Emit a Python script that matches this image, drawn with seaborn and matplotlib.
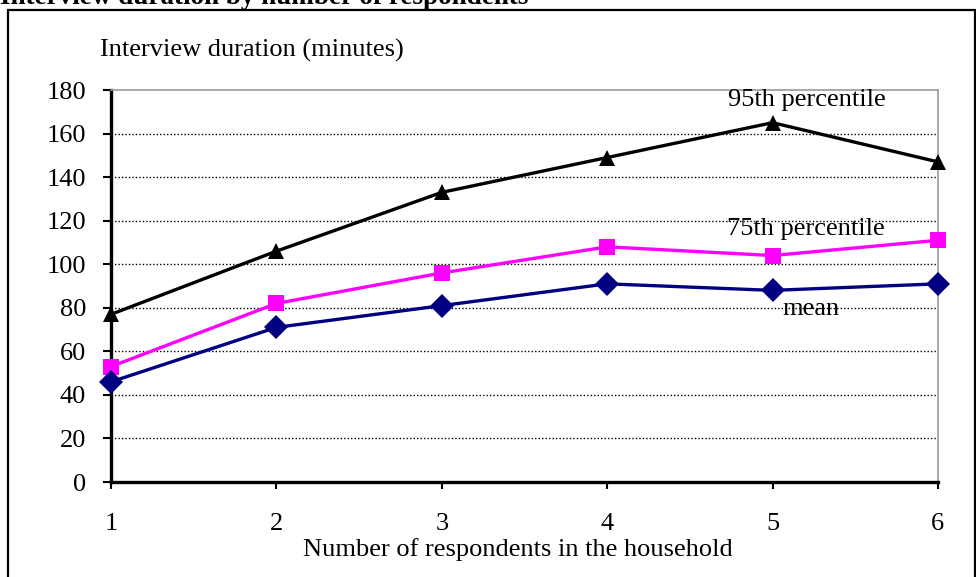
import matplotlib
matplotlib.use("Agg")
import matplotlib.pyplot as plt
import seaborn as sns
import pandas as pd
from matplotlib.patches import Rectangle

respondents = [1, 2, 3, 4, 5, 6]
p95 = [77, 106, 133, 149, 165, 147]
p75 = [53, 82, 96, 108, 104, 111]
mean = [46, 71, 81, 91, 88, 91]
series_names = ["95th percentile", "75th percentile", "mean"]
y_ticks = [0, 20, 40, 60, 80, 100, 120, 140, 160, 180]

df = pd.DataFrame({
    "respondents": respondents * 3,
    "minutes": p95 + p75 + mean,
    "series": [series_names[0]] * 6 + [series_names[1]] * 6 + [series_names[2]] * 6,
})

sns.set_theme(style="white")
plt.rcParams["font.family"] = ["Liberation Serif", "DejaVu Serif"]

fig = plt.figure(figsize=(9.76, 5.77), dpi=100)
ax = fig.add_axes([0.1137, 0.1646, 0.8473, 0.6794])

palette = {series_names[0]: "black", series_names[1]: "#ff00ff", series_names[2]: "#000080"}
markers = {series_names[0]: "^", series_names[1]: "s", series_names[2]: "D"}
sns.lineplot(data=df, x="respondents", y="minutes", hue="series", style="series",
             palette=palette, markers=markers, dashes=False, linewidth=2.4,
             markersize=12, markeredgewidth=0, legend=False, ax=ax, zorder=3)
for line in ax.get_lines():
    line.set_clip_on(False)

ax.set_xlim(1, 6)
ax.set_ylim(0, 180)
ax.set_yticks(y_ticks)
ax.set_xticks(respondents)
ax.set_xticklabels([str(v) for v in respondents])
ax.set_xlabel("")
ax.set_ylabel("")
for y in y_ticks[1:-1]:
    ax.axhline(y, color="black", linestyle=(0, (1, 1.5)), linewidth=1.0, zorder=1)

for side in ["top", "right"]:
    ax.spines[side].set_color("#999999")
    ax.spines[side].set_linewidth(1.2)
for side in ["left", "bottom"]:
    ax.spines[side].set_color("black")
    ax.spines[side].set_linewidth(2.4)

ax.tick_params(axis="y", direction="out", length=6, width=1.5, color="black",
               labelsize=19, pad=12, left=True)
ax.tick_params(axis="x", direction="out", length=5, width=1.5, color="black",
               labelsize=19, pad=17, bottom=True)
for lab in ax.get_xticklabels() + ax.get_yticklabels():
    lab.set_color("black")

ax.text(5.21, 175.4, "95th percentile", ha="center", va="center", fontsize=19, color="black")
ax.text(5.20, 116.2, "75th percentile", ha="center", va="center", fontsize=19, color="black")
ax.text(5.23, 79.4, "mean", ha="center", va="center", fontsize=19, color="black")

fig.text(100 / 976, 1 - 50 / 577, "Interview duration (minutes)", ha="left", va="center",
         fontsize=19, color="black")
fig.text(518 / 976, 1 - 556 / 577, "Number of respondents in the household", ha="center",
         va="baseline", fontsize=19, color="black")
fig.text(0.0, 1 - 4 / 577, "Interview duration by number of respondents", ha="left",
         va="baseline", fontsize=19.5, fontweight="bold", color="black")

fig.patches.append(Rectangle((8 / 976, -0.01), (975 - 8) / 976, 1 - 10 / 577 + 0.01,
                             transform=fig.transFigure, fill=False, edgecolor="black",
                             linewidth=1.6, zorder=0))

fig.savefig("out.png", dpi=100)
